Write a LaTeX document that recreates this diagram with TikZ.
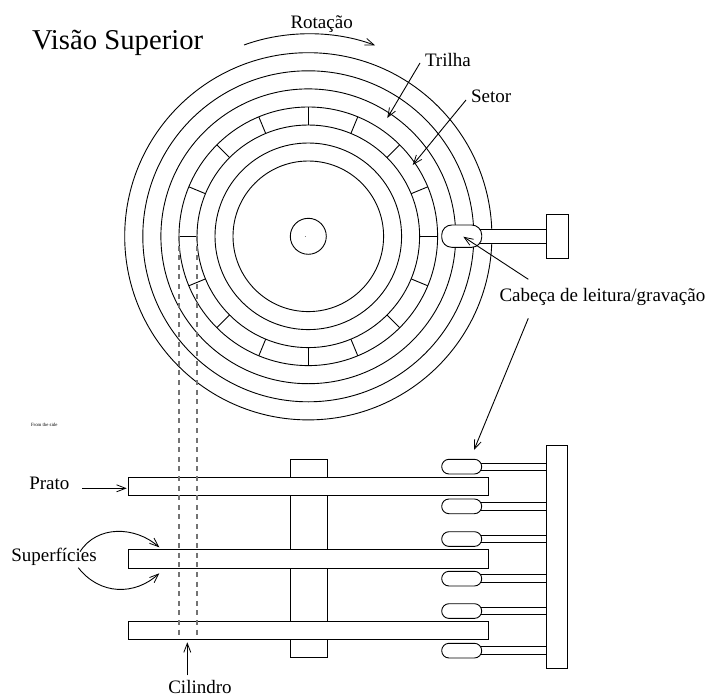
\documentclass[tikz,border=0pt]{standalone}
\usepackage{fontspec}
\setmainfont{Liberation Serif}
\usetikzlibrary{arrows.meta}
\tikzset{
  x=1pt,y=-1pt,
  every path/.style={line width=0.9pt},
  lbl/.style={anchor=base west,inner sep=0pt,outer sep=0pt,font=\fontsize{19}{19}\selectfont},
  arrowline/.style={-{Straight Barb[length=9pt,width=7pt,line width=0.8pt]}},
  hd/.style={draw,fill=white,rounded corners=7.3pt},
  hdtop/.style={draw,fill=white,rounded corners=10pt},
  box/.style={draw,fill=white},
  cyl/.style={draw=black!55,line width=1.3pt,dash pattern=on 5pt off 4.6pt},
}
\begin{document}
\begin{tikzpicture}
\useasboundingbox (0,0) rectangle (710,696);
\coordinate (c) at (308.3,236.3);
% top view
\draw (c) circle[radius=18pt];
\foreach \r in {75.3,93.3,111.3,129.3,147.4,165.5,183.6}{\draw (c) circle[radius=\r pt];}
\foreach \a in {0,22.5,...,337.5}{\draw ([shift={(\a:111.3)}]c) -- ([shift={(\a:129.3)}]c);}
\draw[black!50,line width=0.5pt] (304.5,236.3) -- (306,236.3);
\draw[box] (470,229) rectangle (546,243.3);
\draw[box] (546,214.7) rectangle (568,258.3);
\draw[hdtop] (441.7,225) rectangle (481.7,247.3);
% side view
\draw[box] (290.7,459.7) rectangle (327,657.7);
\foreach \y in {477.3,549.7,621.3}{\draw[box] (128.3,\y) rectangle (488.7,\y+18.4);}
\draw[cyl] (179,236) -- (179,635);
\draw[cyl] (197,236) -- (197,635);
\draw[box] (546,445) rectangle (567.7,668.3);
\foreach \t/\u/\v in {459.3/463.3/470.3,499/502.7/510,531.7/535.3/542.3,571.3/574.7/582,603.7/607.3/614.3,643.3/646.7/654}{
  \draw (480,\u) -- (546,\u);
  \draw (480,\v) -- (546,\v);
  \draw[hd] (441.7,\t) rectangle (481.7,\t+14.7);
}
% labels
\node[lbl,font=\fontsize{28.7}{29}\selectfont] (visao) at (32,49.5) {Visão Superior};
\node[lbl] (rot) at (290.5,28) {Rotação};
\node[lbl] (tri) at (425,66.7) {Trilha};
\node[lbl] (set) at (471,102) {Setor};
\node[lbl] (cab) at (499.5,301) {Cabeça de leitura/gravação};
\node[lbl] (pra) at (29.3,489) {Prato};
\node[lbl] (sup) at (11.3,561) {Superfícies};
\node[lbl] (cil) at (168.3,693.3) {Cilindro};
\node[lbl,font=\fontsize{4.8}{5}\selectfont] (side) at (31,426.7) {From the side};
% arrows
\coordinate (r1) at (244,45); \coordinate (r2) at (375,45.3);
\draw[arrowline] (r1) .. controls (285,30) and (334,30) .. (r2);
\coordinate (t1) at (420,63); \coordinate (t2) at (387.3,118);
\draw[arrowline] (t1) -- (t2);
\coordinate (s1) at (466,100); \coordinate (s2) at (412.7,165);
\draw[arrowline] (s1) -- (s2);
\coordinate (h1) at (528.3,279.3); \coordinate (h2) at (463.3,236.7);
\draw[arrowline] (h1) -- (h2);
\coordinate (h3) at (528.3,318.3); \coordinate (h4) at (474,450);
\draw[arrowline] (h3) -- (h4);
\coordinate (p1) at (82,488.3); \coordinate (p2) at (126.7,488.3);
\draw[arrowline] (p1) -- (p2);
\coordinate (ci1) at (187.3,675.3); \coordinate (ci2) at (187.3,642.3);
\draw[arrowline] (ci1) -- (ci2);
\coordinate (u0) at (80,551.7); \coordinate (u1) at (159.3,547.3);
\draw[arrowline] (u0) .. controls (97,525) and (135,526) .. (u1);
\coordinate (l0) at (78.3,567.7); \coordinate (l1) at (159.3,573.3);
\draw[arrowline] (l0) .. controls (100,595.5) and (135,595.5) .. (l1);
\end{tikzpicture}
\end{document}
